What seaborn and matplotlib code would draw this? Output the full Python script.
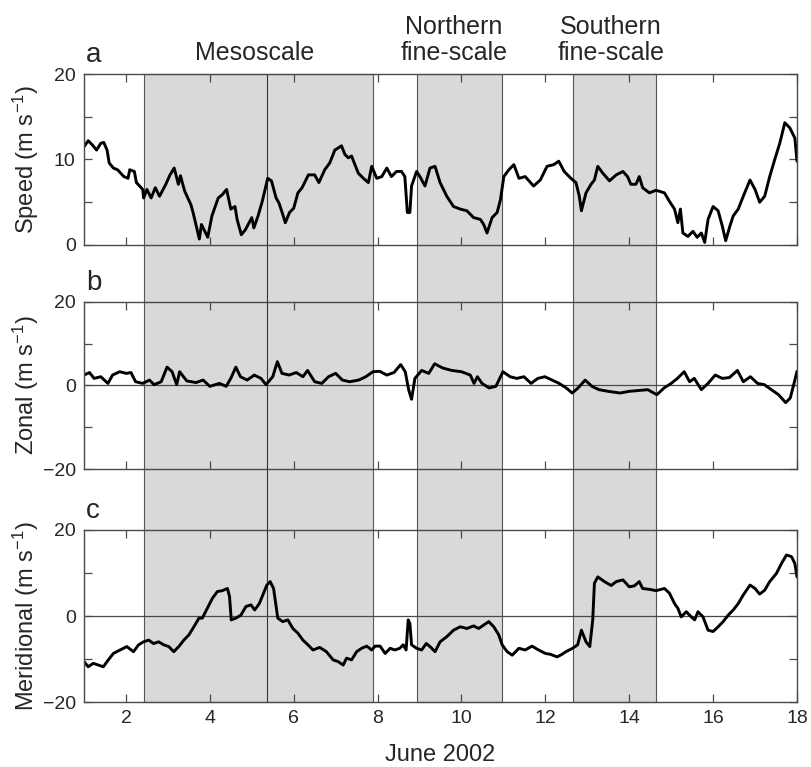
import pandas as pd
import numpy as np
import matplotlib
matplotlib.use('Agg')
import matplotlib.pyplot as plt
import matplotlib.transforms as mtransforms
from matplotlib.patches import Rectangle
from matplotlib.lines import Line2D
import seaborn as sns

# Wind speed (panel a)
speed_day = [1.0, 1.1, 1.2, 1.3, 1.4, 1.47, 1.55, 1.6, 1.7, 1.8, 1.95, 2.05, 2.09, 2.2, 2.25, 2.4, 2.42, 2.5,
             2.6, 2.7, 2.8, 2.95, 3.05, 3.15, 3.25, 3.3, 3.4, 3.55, 3.6, 3.75, 3.8, 3.95, 4.05, 4.2, 4.3, 4.4,
             4.5, 4.6, 4.65, 4.75, 4.85, 5.0, 5.05, 5.15, 5.25, 5.38, 5.47, 5.58, 5.65, 5.75, 5.8, 5.9, 6.0,
             6.1, 6.2, 6.35, 6.5, 6.6, 6.74, 6.86, 6.98, 7.14, 7.22, 7.3, 7.38, 7.46, 7.54, 7.66, 7.78, 7.86,
             7.98, 8.1, 8.22, 8.33, 8.45, 8.57, 8.65, 8.71, 8.77, 8.81, 8.93, 9.01, 9.13, 9.25, 9.37, 9.49,
             9.65, 9.81, 9.97, 10.13, 10.29, 10.45, 10.53, 10.61, 10.73, 10.85, 10.93, 11.01, 11.13, 11.25,
             11.37, 11.52, 11.72, 11.88, 12.04, 12.2, 12.32, 12.45, 12.61, 12.73, 12.81, 12.86, 12.97, 13.09,
             13.17, 13.25, 13.37, 13.53, 13.69, 13.85, 13.96, 14.04, 14.16, 14.24, 14.32, 14.48, 14.64, 14.84,
             14.96, 15.08, 15.16, 15.22, 15.28, 15.4, 15.52, 15.62, 15.72, 15.8, 15.88, 16.0, 16.12, 16.22,
             16.3, 16.4, 16.48, 16.6, 16.72, 16.88, 17.0, 17.11, 17.23, 17.35, 17.47, 17.59, 17.71, 17.83,
             17.95, 18.0]
speed_val = [11.5, 12.2, 11.7, 11.1, 11.9, 12.0, 11.1, 9.6, 9.0, 8.8, 8.0, 7.8, 8.8, 8.6, 7.3, 6.5, 5.5, 6.5,
             5.5, 6.7, 5.7, 7.1, 8.2, 9.0, 7.1, 8.1, 6.3, 4.7, 3.8, 0.7, 2.4, 0.9, 3.4, 5.5, 5.9, 6.5,
             4.2, 4.5, 3.0, 1.2, 1.8, 3.2, 2.0, 3.4, 5.1, 7.8, 7.5, 5.5, 4.9, 3.4, 2.6, 3.8, 4.3,
             6.1, 6.7, 8.2, 8.2, 7.3, 8.8, 9.6, 11.1, 11.6, 10.6, 10.2, 10.4, 9.4, 8.4, 7.8, 7.3, 9.2,
             7.8, 8.0, 9.0, 8.0, 8.6, 8.6, 8.0, 3.8, 3.8, 6.9, 8.6, 8.0, 6.9, 9.0, 9.2, 7.3,
             5.7, 4.5, 4.2, 4.0, 3.2, 3.0, 2.4, 1.4, 3.2, 3.8, 5.3, 8.0, 8.8, 9.4,
             7.8, 8.0, 6.9, 7.6, 9.2, 9.4, 9.8, 8.6, 7.8, 7.3, 5.7, 4.0, 6.1, 7.1,
             7.6, 9.2, 8.4, 7.5, 8.2, 8.6, 8.0, 7.1, 7.1, 8.0, 6.7, 6.1, 6.4, 6.1,
             5.1, 4.2, 2.6, 4.2, 1.4, 1.0, 1.6, 0.9, 1.4, 0.3, 3.0, 4.5, 4.0, 2.2,
             0.5, 2.2, 3.4, 4.2, 5.7, 7.6, 6.5, 5.0, 5.7, 8.0, 10.0, 11.9, 14.3, 13.7,
             12.5, 9.8]

# Zonal component (panel b)
zonal_day = [1.0, 1.13, 1.24, 1.4, 1.57, 1.68, 1.85, 2.01, 2.12, 2.23, 2.4, 2.56, 2.67, 2.84, 2.98, 3.1,
             3.21, 3.28, 3.45, 3.67, 3.84, 4.0, 4.23, 4.39, 4.5, 4.62, 4.73, 4.89, 5.06, 5.22, 5.34, 5.5,
             5.61, 5.72, 5.89, 6.06, 6.22, 6.33, 6.5, 6.67, 6.83, 7.0, 7.16, 7.33, 7.55, 7.72, 7.89, 8.05,
             8.22, 8.39, 8.55, 8.66, 8.74, 8.81, 8.89, 9.05, 9.22, 9.36, 9.55, 9.77, 10.0, 10.21, 10.3,
             10.38, 10.49, 10.66, 10.82, 10.99, 11.16, 11.32, 11.49, 11.66, 11.82, 11.99, 12.16, 12.33,
             12.5, 12.64, 12.78, 12.95, 13.11, 13.28, 13.5, 13.78, 14.0, 14.22, 14.44, 14.66, 14.83, 15.0,
             15.15, 15.31, 15.44, 15.55, 15.72, 15.88, 16.05, 16.22, 16.39, 16.58, 16.72, 16.89, 17.06,
             17.22, 17.39, 17.56, 17.73, 17.84, 17.95, 18.0]
zonal_val = [2.5, 3.1, 1.7, 2.1, 0.5, 2.5, 3.3, 2.9, 3.1, 0.9, 0.5, 1.3, 0.2, 0.9, 4.4, 3.3,
             0.2, 3.3, 1.1, 0.7, 1.3, -0.2, 0.5, -0.2, 1.7, 4.4, 2.1, 1.3, 2.5, 1.7, 0.2, 2.1,
             5.7, 2.9, 2.5, 3.1, 2.1, 3.6, 0.9, 0.5, 2.1, 2.9, 1.3, 0.9, 1.3, 2.1, 3.3, 3.4,
             2.5, 3.1, 5.0, 3.3, -1.0, -3.3, 1.7, 3.6, 2.9, 5.2, 4.2, 3.6, 3.3, 2.5, 0.5,
             2.1, 0.5, -0.6, -0.2, 3.3, 2.1, 1.7, 2.1, 0.5, 1.7, 2.1, 1.3, 0.5,
             -0.6, -1.8, -0.6, 1.3, -0.2, -1.0, -1.4, -1.8, -1.4, -1.2, -1.0, -2.2, -0.6, 0.5,
             1.7, 3.3, 0.9, 1.7, -1.0, 0.5, 2.5, 1.7, 1.9, 3.6, 0.9, 2.1, 0.5,
             0.2, -1.0, -2.2, -4.1, -3.0, 1.3, 3.4]

# Meridional component (panel c)
merid_day = [1.0, 1.1, 1.22, 1.34, 1.46, 1.58, 1.7, 1.86, 2.02, 2.18, 2.3, 2.42, 2.54, 2.66, 2.78, 2.9,
             3.02, 3.14, 3.26, 3.38, 3.5, 3.62, 3.74, 3.82, 3.94, 4.06, 4.18, 4.3, 4.42, 4.47, 4.51, 4.62,
             4.74, 4.86, 4.98, 5.07, 5.18, 5.28, 5.36, 5.44, 5.52, 5.58, 5.62, 5.74, 5.86, 5.98, 6.1, 6.22,
             6.34, 6.46, 6.62, 6.78, 6.94, 7.06, 7.18, 7.26, 7.38, 7.5, 7.62, 7.74, 7.86, 7.94, 8.06, 8.18,
             8.3, 8.41, 8.53, 8.61, 8.68, 8.73, 8.77, 8.81, 8.93, 9.05, 9.16, 9.25, 9.37, 9.49, 9.65, 9.81,
             9.97, 10.13, 10.29, 10.41, 10.53, 10.65, 10.77, 10.89, 10.97, 11.09, 11.21, 11.37, 11.52,
             11.68, 11.84, 12.0, 12.12, 12.28, 12.38, 12.49, 12.65, 12.77, 12.86, 12.97, 13.06, 13.13,
             13.17, 13.25, 13.41, 13.57, 13.69, 13.85, 14.0, 14.12, 14.24, 14.32, 14.48, 14.64, 14.84,
             14.96, 15.08, 15.16, 15.24, 15.36, 15.48, 15.56, 15.64, 15.76, 15.88, 16.0, 16.12, 16.24,
             16.36, 16.48, 16.6, 16.72, 16.88, 17.0, 17.11, 17.23, 17.35, 17.51, 17.63, 17.75, 17.87,
             17.95, 18.0]
merid_val = [-10.6, -11.8, -11.0, -11.4, -11.8, -10.2, -8.7, -7.9, -7.1, -8.3, -6.7, -6.0, -5.6, -6.4, -6.0, -6.7,
             -7.1, -8.3, -7.1, -5.6, -4.4, -2.5, -0.5, -0.5, 1.8, 4.1, 5.7, 5.9, 6.4, 4.5, -0.9, -0.5,
             0.2, 2.2, 2.6, 1.4, 2.9, 5.3, 7.2, 8.0, 6.4, 2.2, -0.5, -1.3, -0.9, -2.9, -4.0, -5.6,
             -6.7, -7.9, -7.3, -8.3, -10.2, -10.6, -11.4, -9.8, -10.2, -8.3, -7.5, -7.0, -7.9, -7.0, -7.0, -8.7,
             -7.5, -7.9, -7.5, -6.7, -7.9, -0.9, -1.7, -6.7, -7.5, -7.9, -6.4, -7.1, -8.3, -6.0, -4.8, -3.3,
             -2.5, -2.9, -2.3, -2.9, -2.1, -1.3, -2.5, -4.4, -6.7, -8.3, -9.1, -7.5, -7.9,
             -7.0, -7.9, -8.7, -8.9, -9.5, -9.0, -8.3, -7.5, -6.7, -3.3, -6.0, -7.1, -0.9,
             7.6, 9.1, 8.0, 7.1, 8.0, 8.4, 6.8, 7.0, 8.0, 6.4, 6.2, 5.9, 6.4,
             5.3, 2.9, 1.8, -0.2, 1.0, -0.2, -0.9, 1.0, -0.2, -3.3, -3.6, -2.5, -1.3,
             0.2, 1.4, 2.9, 4.9, 7.2, 6.4, 5.1, 6.0, 8.0, 9.9, 12.2, 14.2, 13.8,
             12.2, 9.1]

# Sampling periods (days of June 2002)
meso_span = [2.42, 7.9]
meso_split = 5.36
north_span = [8.93, 10.97]
south_span = [12.65, 14.65]

sns.set_style('ticks')
plt.rcParams['font.family'] = ['Liberation Sans', 'DejaVu Sans']
plt.rcParams['mathtext.fontset'] = 'custom'
plt.rcParams['mathtext.rm'] = 'Liberation Sans'
plt.rcParams['mathtext.it'] = 'Liberation Sans:italic'

fig = plt.figure(figsize=(8.11, 7.67), dpi=100)
left, width = 0.1036, 0.8791
ax_a = fig.add_axes([left, 0.6806, width, 0.2229])
ax_b = fig.add_axes([left, 0.3885, width, 0.2178])
ax_c = fig.add_axes([left, 0.0847, width, 0.2243])

df_a = pd.DataFrame({'day': speed_day, 'val': speed_val})
df_b = pd.DataFrame({'day': zonal_day, 'val': zonal_val})
df_c = pd.DataFrame({'day': merid_day, 'val': merid_val})

edge = '#4a4a4a'
panels = [(ax_a, df_a, 'a', r'Speed (m s$^{-1}$)', [0, 5, 10, 15, 20], ['0', '', '10', '', '20'], (0, 20)),
          (ax_b, df_b, 'b', r'Zonal (m s$^{-1}$)', [-20, -10, 0, 10, 20], ['\u221220', '', '0', '', '20'], (-20, 20)),
          (ax_c, df_c, 'c', r'Meridional (m s$^{-1}$)', [-20, -10, 0, 10, 20], ['\u221220', '', '0', '', '20'], (-20, 20))]

for ax, df, letter, ylab, yt, ytl, ylim in panels:
    ax.set_facecolor('none')
    sns.lineplot(data=df, x='day', y='val', ax=ax, color='black', lw=2.1, estimator=None, sort=False)
    if ylim[0] < 0:
        ax.axhline(0, color=edge, lw=0.9, zorder=1)
    ax.set_xlim(1, 18)
    ax.set_ylim(*ylim)
    ax.set_xticks(range(2, 19, 2))
    ax.set_yticks(yt)
    ax.set_yticklabels(ytl)
    ax.tick_params(direction='in', top=True, right=True, length=6, width=0.9, color=edge,
                   labelsize=14, pad=6)
    for sp in ax.spines.values():
        sp.set_color(edge)
        sp.set_linewidth(1.0)
    ax.set_xlabel('')
    ax.set_ylabel(ylab, fontsize=17)
    ax.yaxis.set_label_coords(-0.061, 0.5)
    ax.text(0.003, 1.07, letter, transform=ax.transAxes, fontsize=20, ha='left', va='baseline')

ax_a.tick_params(labelbottom=False)
ax_b.tick_params(labelbottom=False)
ax_c.set_xlabel('June 2002', fontsize=17, labelpad=12)

# grey sampling periods running through all three panels
trans = mtransforms.blended_transform_factory(ax_c.transData, fig.transFigure)
y0, y1 = 0.0847, 0.9035
for x0, x1 in [meso_span, north_span, south_span]:
    fig.add_artist(Rectangle((x0, y0), x1 - x0, y1 - y0, transform=trans, facecolor='#d9d9d9',
                             edgecolor='#555555', lw=0.8, zorder=-1))
fig.add_artist(Line2D([meso_split, meso_split], [y0, y1], transform=trans, color='#333333', lw=0.8, zorder=-0.5))

ax_a.text(5.07, 1.08, 'Mesoscale', transform=ax_a.get_xaxis_transform(), fontsize=18, ha='center', va='baseline')
ax_a.text(9.82, 1.08, 'Northern\nfine-scale', transform=ax_a.get_xaxis_transform(), fontsize=18, ha='center',
          va='baseline', linespacing=1.1)
ax_a.text(13.56, 1.08, 'Southern\nfine-scale', transform=ax_a.get_xaxis_transform(), fontsize=18, ha='center',
          va='baseline', linespacing=1.1)

plt.savefig('out.png', dpi=100)
